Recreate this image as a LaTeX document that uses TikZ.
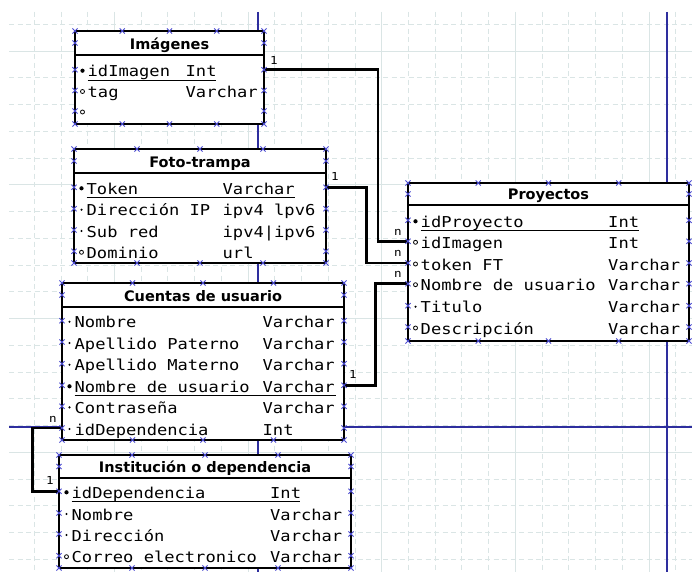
\documentclass[tikz,border=0pt]{standalone}
\usepackage{fontspec}
\newfontfamily\colfont[FakeStretch=1.14]{DejaVu Sans Mono}
\newfontfamily\titlefont{DejaVu Sans}
\definecolor{gridcol}{HTML}{DAE5E5}
\definecolor{breakblue}{HTML}{2E2E9E}
\definecolor{cpblue}{HTML}{4A4AD0}
\pgfdeclarelayer{bg}
\pgfsetlayers{bg,main}

\tikzset{
  gridminor/.style={draw=gridcol, line width=0.9pt, dash pattern=on 5pt off 3.5pt},
  gridmajor/.style={draw=gridcol, line width=0.9pt},
  pagebreak/.style={draw=breakblue, line width=1.4pt},
  tablebox/.style={draw=black, fill=white, line width=2.6pt},
  tablerule/.style={draw=black, line width=2.6pt},
  relline/.style={draw=black, line width=2.6pt},
  keyline/.style={draw=black, line width=1.2pt},
  cpmark/.style={draw=cpblue, line width=0.8pt},
  coltext/.style={inner sep=0pt, anchor=base west, font=\colfont\fontsize{15}{15}\selectfont},
  titletext/.style={inner sep=0pt, anchor=base, font=\titlefont\bfseries\fontsize{14.5}{15}\selectfont},
  card/.style={inner sep=0pt, anchor=base, font=\colfont\fontsize{11}{11}\selectfont},
  pkdot/.style={circle, fill=black, inner sep=0pt, minimum size=4.2pt},
  nndot/.style={circle, fill=black, inner sep=0pt, minimum size=2.4pt},
  nulldot/.style={circle, draw=black, line width=0.8pt, inner sep=0pt, minimum size=4pt},
}

% connection point marker
\newcommand\cpx[2]{\draw[cpmark] ({#1},{#2}) ++(-2.6,-2.6) -- ++(5.2,5.2) ++(-5.2,0) -- ++(5.2,-5.2);}

% table frame: id, left, top, right, header rule, bottom, title
\newcommand\dbtable[7]{%
  \draw[tablebox] (#2,#3) rectangle (#4,#6);
  \draw[tablerule] (#2,#5) -- (#4,#5);
  \node[titletext] (#1-title) at ({(#2+#4)/2},{#5-5.5}) {#7};
  \foreach \f in {0,0.25,0.5,0.75,1}{%
    \pgfmathsetmacro\mx{#2+\f*(#4-#2)}%
    \cpx{\mx}{#3}\cpx{\mx}{#6}}
  \cpx{#2}{(#3+#5)/2}\cpx{#4}{(#3+#5)/2}
}

% column row: id, left, right, baseline, mark, column name, type x, type
\newcommand\dbrow[8]{%
  \node[#5] (#1-mark) at ({#2+7.5},{#4-6}) {};
  \node[coltext] (#1-name) at ({#2+12.5},{#4}) {#6};
  \node[coltext] (#1-type) at ({#7},{#4}) {#8};
  \coordinate (#1-w) at ({#2},{#4-7});
  \coordinate (#1-e) at ({#3},{#4-7});
  \cpx{#2}{#4-7}\cpx{#3}{#4-7}
}

\begin{document}
\begin{tikzpicture}[x=1pt,y=-1pt]
\useasboundingbox (0,0) rectangle (692,572);

\begin{pgfonlayer}{bg}
  \fill[white] (0,0) rectangle (692,572);
  % background grid
  \begin{scope}
    \clip (9,12) rectangle (692,572);
    \foreach \k in {1,...,25}{%
      \pgfmathsetmacro\gx{7.5+26.73*\k}%
      \pgfmathtruncatemacro\km{mod(\k,5)}%
      \ifnum\km=4 \draw[gridmajor] (\gx,12) -- (\gx,572);
      \else \draw[gridminor] (\gx,12) -- (\gx,572);\fi}
    \foreach \j in {0,...,20}{%
      \pgfmathsetmacro\gy{24.3+26.75*\j}%
      \pgfmathtruncatemacro\jm{mod(\j,5)}%
      \ifnum\jm=1 \draw[gridmajor] (9,\gy) -- (692,\gy);
      \else \draw[gridminor] (9,\gy) -- (692,\gy);\fi}
  \end{scope}
  % page breaks
  \draw[pagebreak] (258,12) -- (258,572);
  \draw[pagebreak] (667,12) -- (667,572);
  \draw[pagebreak] (9,427) -- (692,427);
\end{pgfonlayer}

% Imagenes
\dbtable{img}{75}{31}{264}{55}{124}{Imágenes}
\dbrow{img1}{75}{264}{76.7}{pkdot}{idImagen}{185.5}{Int}
\dbrow{img2}{75}{264}{97.5}{nulldot}{tag}{185.5}{Varchar}
\dbrow{img3}{75}{264}{118}{nulldot}{}{185.5}{}
\draw[keyline] (87.5,80.5) -- (216,80.5);

% Foto-trampa
\dbtable{ft}{74}{149}{326}{173}{263}{Foto-trampa}
\dbrow{ft1}{74}{326}{194.3}{pkdot}{Token}{222.5}{Varchar}
\dbrow{ft2}{74}{326}{215.7}{nndot}{Dirección IP}{222.5}{ipv4 lpv6}
\dbrow{ft3}{74}{326}{237}{nndot}{Sub red}{222.5}{ipv4|ipv6}
\dbrow{ft4}{74}{326}{258.3}{nulldot}{Dominio}{222.5}{url}
\draw[keyline] (86.5,197.5) -- (295,197.5);

% Cuentas de usuario
\dbtable{cu}{62}{283}{344}{307}{440}{Cuentas de usuario}
\dbrow{cu1}{62}{344}{327.7}{nndot}{Nombre}{262.5}{Varchar}
\dbrow{cu2}{62}{344}{349}{nndot}{Apellido Paterno}{262.5}{Varchar}
\dbrow{cu3}{62}{344}{370.7}{nndot}{Apellido Materno}{262.5}{Varchar}
\dbrow{cu4}{62}{344}{392.3}{pkdot}{Nombre de usuario}{262.5}{Varchar}
\dbrow{cu5}{62}{344}{413.3}{nndot}{Contraseña}{262.5}{Varchar}
\dbrow{cu6}{62}{344}{435}{nndot}{idDependencia}{262.5}{Int}
\draw[keyline] (74.5,395.5) -- (336,395.5);

% Proyectos
\dbtable{pr}{408}{183}{689}{205}{341}{Proyectos}
\dbrow{pr1}{408}{689}{227.3}{pkdot}{idProyecto}{608}{Int}
\dbrow{pr2}{408}{689}{248.3}{nulldot}{idImagen}{608}{Int}
\dbrow{pr3}{408}{689}{270}{nulldot}{token FT}{608}{Varchar}
\dbrow{pr4}{408}{689}{290.7}{nulldot}{Nombre de usuario}{608}{Varchar}
\dbrow{pr5}{408}{689}{312.7}{nndot}{Titulo}{608}{Varchar}
\dbrow{pr6}{408}{689}{334}{nulldot}{Descripción}{608}{Varchar}
\draw[keyline] (420.5,230.5) -- (639,230.5);

% Institucion o dependencia
\dbtable{in}{59}{455}{351}{478}{568}{Institución o dependencia}
\dbrow{in1}{59}{351}{498.3}{pkdot}{idDependencia}{270}{Int}
\dbrow{in2}{59}{351}{520}{nndot}{Nombre}{270}{Varchar}
\dbrow{in3}{59}{351}{541}{nndot}{Dirección}{270}{Varchar}
\dbrow{in4}{59}{351}{562.7}{nulldot}{Correo electronico}{270}{Varchar}
\draw[keyline] (71.5,501.5) -- (300,501.5);

% relationships
\coordinate (bendA) at (378,0);
\coordinate (bendB) at (366.7,0);
\coordinate (bendC) at (375.5,0);
\coordinate (bendD) at (32.7,0);
\begin{pgfonlayer}{bg}
  \draw[relline] (img1-e) -| (bendA |- pr2-w) -- (pr2-w);
  \draw[relline] (ft1-e) -| (bendB |- pr3-w) -- (pr3-w);
  \draw[relline] (cu4-e) -| (bendC |- pr4-w) -- (pr4-w);
  \draw[relline] (cu6-w) -| (bendD |- in1-w) -- (in1-w);
\end{pgfonlayer}

% cardinalities
\node[card] (cardA1) at (274,65) {1};
\node[card] (cardAn) at (398,235) {n};
\node[card] (cardB1) at (335,180) {1};
\node[card] (cardBn) at (398,256) {n};
\node[card] (cardC1) at (353,378) {1};
\node[card] (cardCn) at (398,277) {n};
\node[card] (cardDn) at (53,422) {n};
\node[card] (cardD1) at (50,484) {1};
\end{tikzpicture}
\end{document}
